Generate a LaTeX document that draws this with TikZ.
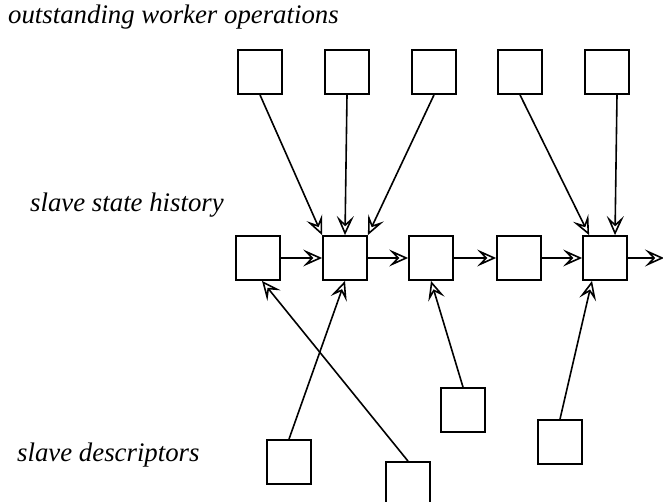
\documentclass[tikz,border=0pt]{standalone}
\usepackage{fontspec}
\setmainfont{Liberation Serif}
\usetikzlibrary{arrows.meta}
\begin{document}
\begin{tikzpicture}[x=1pt, y=-1pt,
    box/.style={shape=rectangle, draw, line width=1.8pt, inner sep=0pt,
          minimum width=44pt, minimum height=44pt},
    lbl/.style={anchor=base west, inner sep=0pt,
          font=\fontsize{26.8}{30}\selectfont\itshape},
    link/.style={line width=1.6pt, -{Stealth[open, length=19pt, width=17pt, inset=8pt]}}]
    \useasboundingbox (0,0) rectangle (663,502);
    \node[lbl] (opslbl) at (8,24) {outstanding worker operations};
    \node[lbl] (histlbl) at (30,212) {slave state history};
    \node[lbl] (desclbl) at (17,461) {slave descriptors};
    \node[box] (ops1) at (260,72) {};
    \node[box] (ops2) at (347,72) {};
    \node[box] (ops3) at (434,72) {};
    \node[box] (ops4) at (520,72) {};
    \node[box] (ops5) at (607,72) {};
    \node[box] (hist1) at (258,258) {};
    \node[box] (hist2) at (345,258) {};
    \node[box] (hist3) at (431,258) {};
    \node[box] (hist4) at (519,258) {};
    \node[box] (hist5) at (605,258) {};
    \coordinate (histend) at (664,258);
    \node[box] (desc1) at (289,462) {};
    \node[box] (desc2) at (408,484) {};
    \node[box] (desc3) at (463,410) {};
    \node[box] (desc4) at (560,442) {};
    \draw[link] (ops1.south) -- (hist2.north west);
    \draw[link] (ops2.south) -- (hist2.north);
    \draw[link] (ops3.south) -- (hist2.north east);
    \draw[link] (ops4.south) -- ([xshift=7pt]hist5.north west);
    \draw[link] ([xshift=10pt]ops5.south) -- ([xshift=10pt]hist5.north);
    \draw[link] (hist1) -- (hist2);
    \draw[link] (hist2) -- (hist3);
    \draw[link] (hist3) -- (hist4);
    \draw[link] (hist4) -- (hist5);
    \draw[link] (hist5) -- (histend);
    \draw[link] (desc2.north) -- ([xshift=4pt]hist1.south);
    \draw[link] (desc1.north) -- (hist2.south);
    \draw[link] (desc3.north) -- (hist3.south);
    \draw[link] (desc4.north) -- ([xshift=-13pt]hist5.south);
  \end{tikzpicture}
\end{document}
